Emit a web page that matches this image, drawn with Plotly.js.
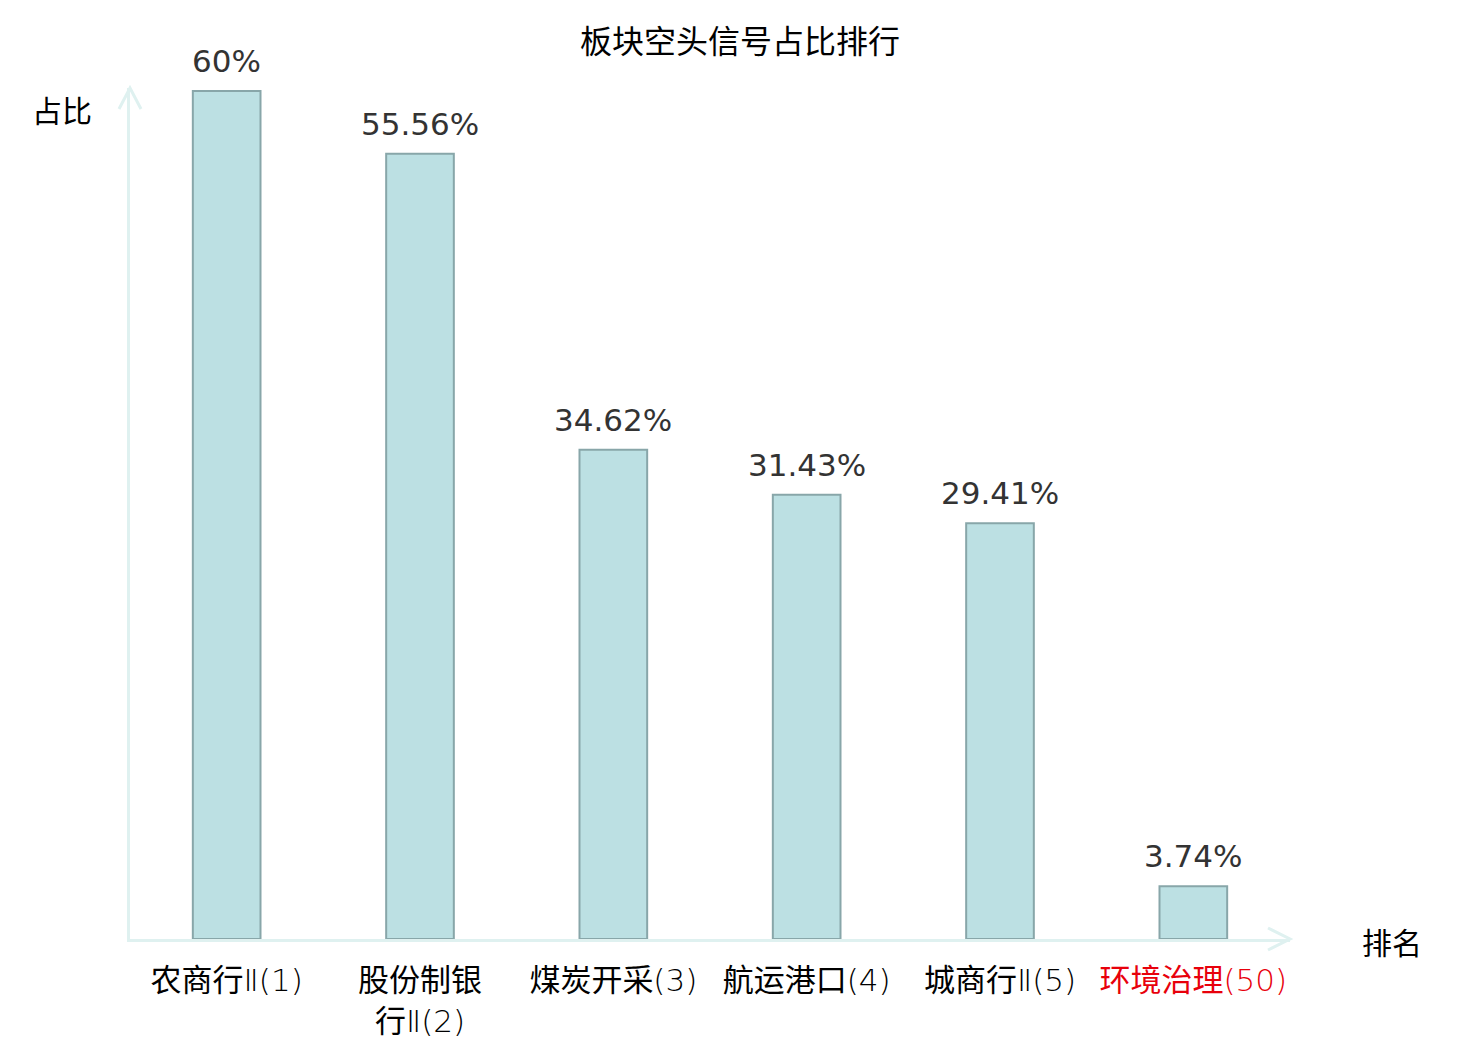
<!DOCTYPE html>
<html>
<head>
<meta charset="utf-8">
<script src="https://cdn.plot.ly/plotly-3.0.1.min.js"></script>
<style>
  html, body { margin: 0; padding: 0; background: #fff; }
  #plot { width: 1480px; height: 1040px; }
</style>
</head>
<body>
<div id="plot"></div>
<script>
// DATA =========================================================
var categories = ['农商行Ⅱ(1)', '股份制银<br>行Ⅱ(2)', '煤炭开采(3)', '航运港口(4)', '城商行Ⅱ(5)', '环境治理(50)'];
var values = [60, 55.56, 34.62, 31.43, 29.41, 3.74];
var valueLabels = ['60%', '55.56%', '34.62%', '31.43%', '29.41%', '3.74%'];
var highlighted = [false, false, false, false, false, true];

// LAYOUT CONSTANTS =============================================
var marginL = 130, marginR = 190, marginT = 88, marginB = 101;
var plotW = 1480 - marginL - marginR;
var plotH = 1040 - marginT - marginB;
var axisColor = '#dff1f0';
var cjkFont = 'Noto Sans CJK SC, DejaVu Sans, sans-serif';
var numFont = 'DejaVu Sans, Noto Sans CJK SC, sans-serif';

var idx = categories.map(function (c, i) { return i; });

// latin part of the names (Ⅱ, digits, brackets) is drawn thin
var tickText = categories.map(function (c, i) {
    var t = c.replace(/([Ⅱ()0-9]+)/g, '<span style="font-family:\'DejaVu Sans\';font-weight:200">$1</span>');
    return highlighted[i] ? '<span style="color:#e8000b">' + t + '</span>' : t;
});

// arrow heads as chevrons, offsets given in pixels
function chevron(tipX, tipY, ax, ay, bx, by) {
    var px = function (v) { return v / plotW; };
    var py = function (v) { return v / plotH; };
    return {
        type: 'path', xref: 'paper', yref: 'paper',
        path: 'M ' + (tipX + px(ax)) + ' ' + (tipY + py(ay)) +
              ' L ' + tipX + ' ' + tipY +
              ' L ' + (tipX + px(bx)) + ' ' + (tipY + py(by)),
        line: { color: axisColor, width: 3 }
    };
}

var data = [{
    type: 'bar',
    x: idx,
    y: values,
    width: 0.35,
    marker: { color: '#bce0e3', line: { color: '#88a6a9', width: 2 } },
    hoverinfo: 'none'
}];

var annotations = idx.map(function (i) {
    return {
        x: i, y: values[i], xref: 'x', yref: 'y',
        text: valueLabels[i], showarrow: false,
        yanchor: 'bottom', yshift: 10,
        font: { family: numFont, size: 31, color: '#333333' }
    };
});

annotations.push({
    xref: 'paper', yref: 'paper', x: 0, y: 1,
    xanchor: 'right', yanchor: 'middle', xshift: -36, yshift: -21,
    text: '占比', showarrow: false,
    font: { family: cjkFont, size: 30, color: '#000' }
});
annotations.push({
    xref: 'paper', yref: 'paper', x: 1, y: 0,
    xanchor: 'left', yanchor: 'middle', xshift: 70, yshift: -2,
    text: '排名', showarrow: false,
    font: { family: cjkFont, size: 30, color: '#000' }
});

var layout = {
    width: 1480,
    height: 1040,
    paper_bgcolor: '#fff',
    plot_bgcolor: '#fff',
    margin: { l: marginL, r: marginR, t: marginT, b: marginB },
    title: {
        text: '板块空头信号占比排行',
        x: 0.5, xref: 'container', xanchor: 'center',
        y: 1 - 42 / 1040, yref: 'container', yanchor: 'middle',
        font: { family: cjkFont, size: 32, color: '#000' }
    },
    showlegend: false,
    xaxis: {
        range: [-0.5, 5.5],
        tickmode: 'array',
        tickvals: idx,
        ticktext: tickText,
        ticks: '',
        ticklabelstandoff: 12,
        showgrid: false,
        zeroline: false,
        showline: true,
        linecolor: axisColor,
        linewidth: 3,
        tickfont: { family: cjkFont, size: 31, color: '#000' },
        fixedrange: true
    },
    yaxis: {
        range: [0, plotH / (848 / 60)],
        showticklabels: false,
        ticks: '',
        showgrid: false,
        zeroline: false,
        showline: true,
        linecolor: axisColor,
        linewidth: 3,
        fixedrange: true
    },
    shapes: [
        chevron(0, 1, -11, -21, 11, -21),
        chevron(1, 0, -22, 11, -22, -11)
    ],
    annotations: annotations
};

Plotly.newPlot('plot', data, layout, { displayModeBar: false, staticPlot: true });
</script>
</body>
</html>
